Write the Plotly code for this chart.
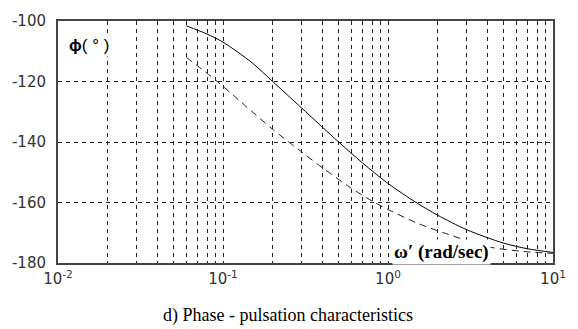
import plotly.graph_objects as go

# Data
w_solid = [0.06, 0.08, 0.1, 0.15, 0.2, 0.3, 0.5, 0.7, 1.0, 1.5, 2.0, 3.0, 5.0, 7.0, 10]
phi_solid = [-101.6, -104.3, -107.0, -113.8, -120, -128.8, -139.9, -146.9, -153.7, -160.2, -164.2, -169.0, -173.4, -175.3, -176.5]

w_dash = [0.06, 0.09, 0.13, 0.2, 0.3, 0.4, 0.6, 0.8, 1.0, 1.5, 2.2, 4.0, 7.0, 10]
phi_dash = [-112, -119.5, -127, -135.8, -143.3, -148.5, -155.3, -159.5, -162.3, -166.8, -170.1, -174.6, -176.3, -176.8]

decades = [0.01, 0.1, 1, 10]
decade_labels = ["10<sup>-2</sup>", "10<sup>-1</sup>", "10<sup>0</sup>", "10<sup>1</sup>"]
minor_mult = [2, 3, 4, 5, 6, 7, 8, 9]
y_ticks = [-180, -160, -140, -120, -100]

xgrid_minor = [d * m for d in decades[:-1] for m in minor_mult]

grid = dict(gridcolor="#222", gridwidth=1, griddash="4px,4px")

fig = go.Figure()
fig.add_trace(go.Scatter(x=w_solid, y=phi_solid, mode="lines",
                         line=dict(color="black", width=1, shape="spline", smoothing=0.8),
                         showlegend=False))
fig.add_trace(go.Scatter(x=w_dash, y=phi_dash, mode="lines",
                         line=dict(color="#222", width=1, dash="7px,5px", shape="spline", smoothing=0.8),
                         showlegend=False))

tickfont = dict(family="DejaVu Sans", size=15, color="#333")

fig.update_layout(
    width=578, height=329,
    margin=dict(l=56, r=20, t=17, b=66),
    paper_bgcolor="white", plot_bgcolor="white",
    font=dict(family="DejaVu Sans", size=15, color="#333"),
    xaxis=dict(type="log", range=[-2, 1], tickmode="array", tickvals=decades, ticktext=decade_labels,
               showgrid=True, **grid,
               minor=dict(tickmode="array", tickvals=xgrid_minor, showgrid=True, ticks="", **grid),
               showline=True, linecolor="#444", linewidth=2, mirror=True,
               ticks="", zeroline=False, tickfont=tickfont, ticklabelstandoff=1),
    yaxis=dict(range=[-180, -100], tickmode="array", tickvals=y_ticks, ticktext=[str(v) for v in y_ticks],
               showgrid=True, **grid,
               showline=True, linecolor="#444", linewidth=2, mirror=True,
               ticks="", zeroline=False, tickfont=tickfont, ticklabelstandoff=7),
    annotations=[
        dict(text="<b>ϕ</b>( ° )", xref="paper", yref="paper", x=0.018, y=0.9,
             xanchor="left", yanchor="middle", showarrow=False, bgcolor="white",
             font=dict(family="Liberation Sans", size=17, color="black")),
        dict(text="<b>ω′ (rad/sec)</b>", xref="paper", yref="paper", x=0.674, y=0.045,
             xanchor="left", yanchor="middle", showarrow=False, bgcolor="white",
             font=dict(family="Liberation Serif", size=19, color="black")),
        dict(text="d) Phase - pulsation characteristics", xref="paper", yref="paper",
             x=0.464, y=-0.215, xanchor="center", yanchor="middle", showarrow=False,
             font=dict(family="Liberation Serif", size=18, color="black")),
    ],
)

fig.write_html("out.html")
